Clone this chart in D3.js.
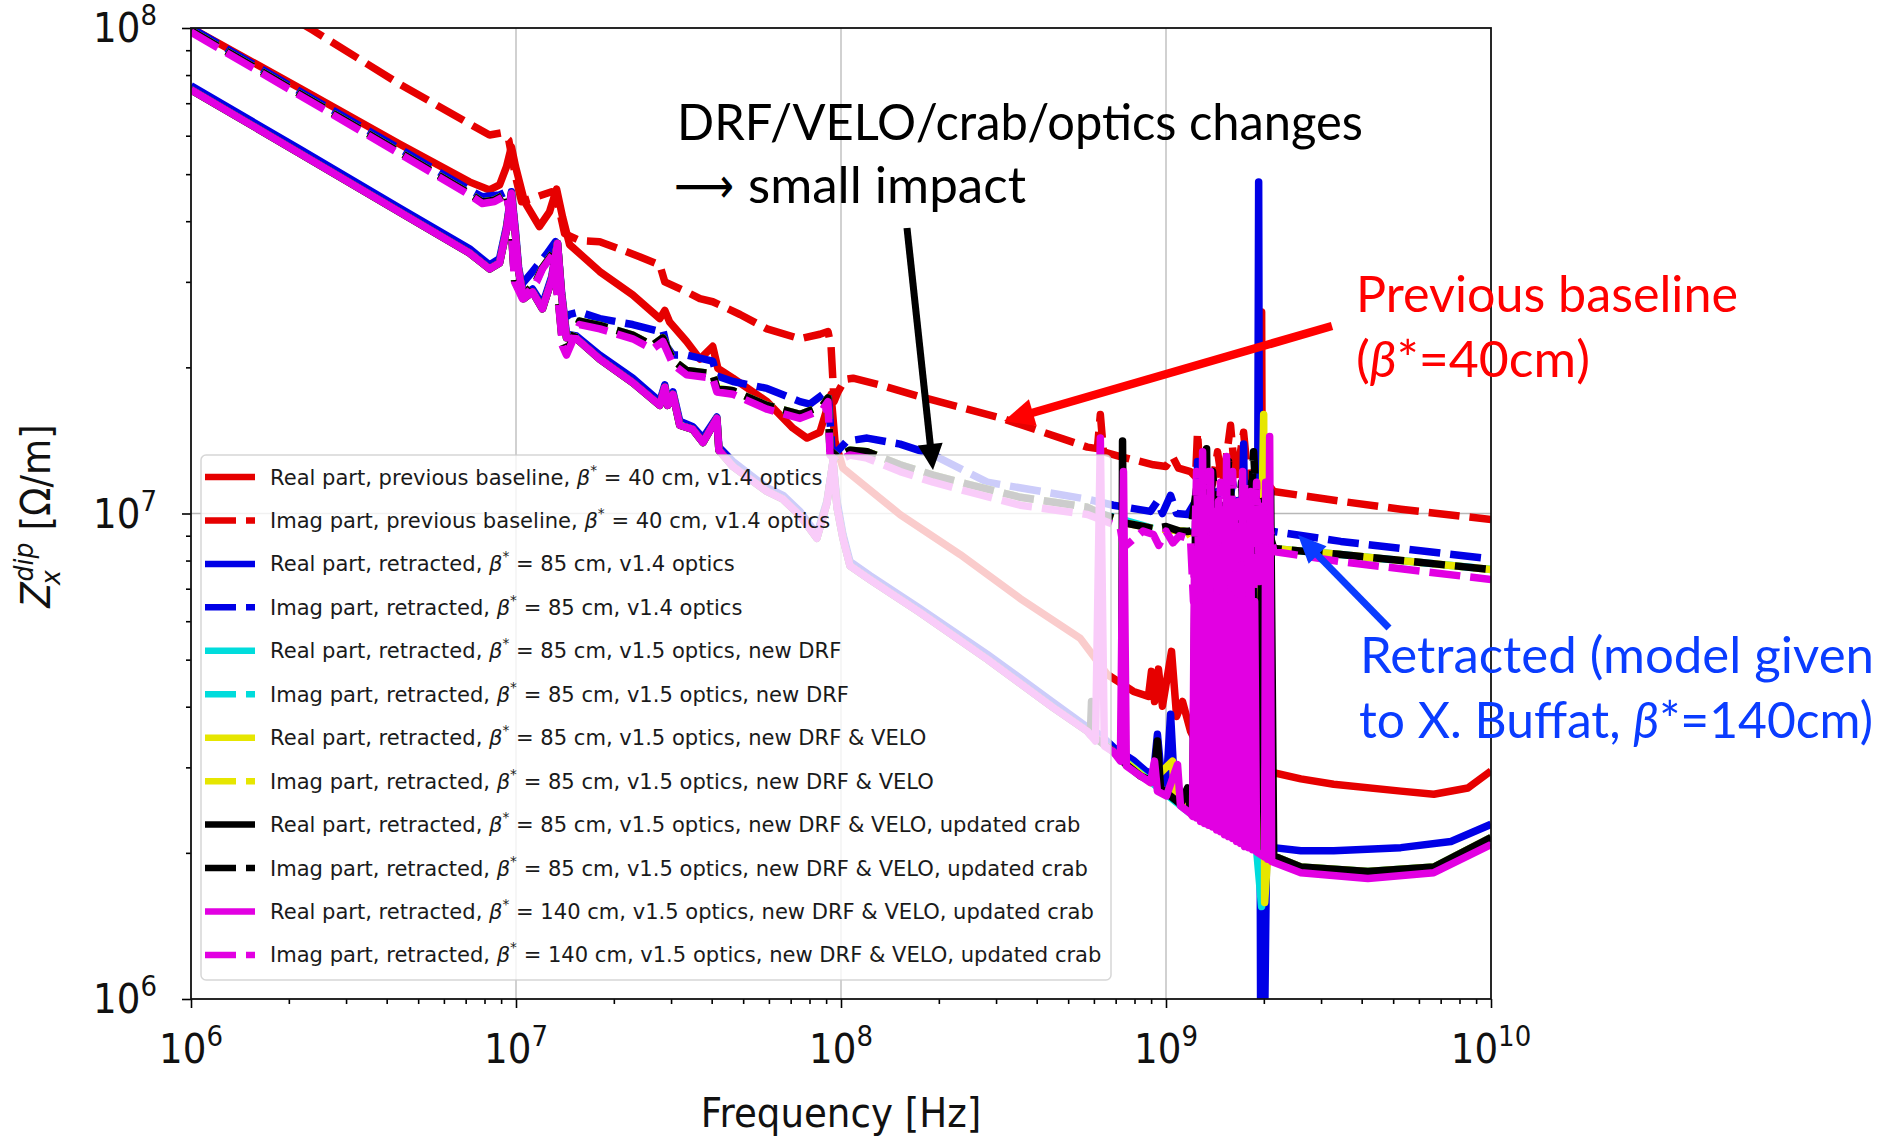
<!DOCTYPE html>
<html>
<head>
<meta charset="utf-8">
<script src="https://cdn.jsdelivr.net/npm/d3@7"></script>
<style>
  body { margin: 0; background: #fff; }
  svg { display: block; }
</style>
</head>
<body>
<svg id="chart" width="1882" height="1136"></svg>
<script>
// ---- data: [frequency Hz, impedance Ohm/m] ----

// previous baseline, beta* = 40 cm
const redRe = [[1.0e6, 1.0e8], [2.15e6, 7.53e7], [4.38e6, 5.77e7], [7.19e6, 4.82e7], [8.29e6, 4.64e7], [8.90e6, 4.75e7], [9.35e6, 5.18e7], [9.68e6, 5.69e7], [9.97e6, 5.18e7], [1.062e7, 4.39e7], [1.18e7, 3.90e7], [1.268e7, 4.18e7], [1.333e7, 4.66e7], [1.391e7, 4.08e7], [1.462e7, 3.58e7], [1.81e7, 3.15e7], [2.286e7, 2.82e7], [2.77e7, 2.52e7], [2.87e7, 2.62e7], [2.97e7, 2.48e7], [3.35e7, 2.26e7], [3.68e7, 2.08e7], [4.03e7, 2.21e7], [4.18e7, 1.99e7], [4.65e7, 1.90e7], [5.92e7, 1.70e7], [7.11e7, 1.50e7], [7.86e7, 1.43e7], [8.61e7, 1.47e7], [9.05e7, 1.64e7], [9.32e7, 1.76e7], [9.58e7, 1.41e7], [1.014e8, 1.24e7], [1.52e8, 9.95e6], [2.327e8, 8.23e6], [3.56e8, 6.68e6], [5.45e8, 5.53e6], [6.60e8, 4.66e6], [7.94e8, 4.30e6], [8.83e8, 4.20e6], [9.02e8, 4.73e6], [9.22e8, 4.10e6], [9.48e8, 4.78e6], [9.75e8, 4.01e6], [1.04e9, 5.20e6], [1.078e9, 3.82e6], [1.124e9, 4.10e6], [1.19e9, 3.56e6], [1.233e9, 3.40e6], [1.277e9, 4.10e6], [1.314e9, 3.32e6], [1.391e9, 4.30e6], [1.441e9, 6.91e6], [1.472e9, 5.45e6], [1.514e9, 6.59e6], [1.558e9, 4.10e6], [1.637e9, 3.73e6], [1.758e9, 3.40e6], [1.887e9, 3.16e6], [1.942e9, 3.12e6], [1.969e9, 2.60e7], [1.990e9, 3.05e6], [2.07e9, 2.94e6], [2.60e9, 2.84e6], [3.28e9, 2.77e6], [5.28e9, 2.68e6], [6.67e9, 2.64e6], [8.49e9, 2.72e6], [1.0e10, 2.95e6]];

const redIm = [[1.0e6, 1.40e8], [2.36e6, 9.91e7], [4.38e6, 7.67e7], [7.19e6, 6.35e7], [8.29e6, 6.02e7], [9.0e6, 6.08e7], [9.5e6, 5.88e7], [9.97e6, 4.94e7], [1.04e7, 4.39e7], [1.157e7, 4.49e7], [1.287e7, 4.60e7], [1.333e7, 4.49e7], [1.411e7, 3.77e7], [1.569e7, 3.65e7], [1.81e7, 3.63e7], [2.40e7, 3.38e7], [2.77e7, 3.25e7], [2.87e7, 3.00e7], [3.35e7, 2.86e7], [3.68e7, 2.77e7], [4.03e7, 2.73e7], [4.89e7, 2.57e7], [5.92e7, 2.40e7], [7.48e7, 2.29e7], [8.61e7, 2.34e7], [9.12e7, 2.37e7], [9.32e7, 2.21e7], [9.52e7, 1.70e7], [9.79e7, 1.78e7], [1.029e8, 1.89e7], [1.089e8, 1.90e7], [1.319e8, 1.84e7], [1.752e8, 1.74e7], [3.134e8, 1.57e7], [5.73e8, 1.37e7], [6.15e8, 1.36e7], [6.28e8, 1.60e7], [6.42e8, 1.34e7], [7.24e8, 1.31e7], [9.15e8, 1.26e7], [1.0e9, 1.25e7], [1.047e9, 1.31e7], [1.093e9, 1.24e7], [1.19e9, 1.22e7], [1.233e9, 1.19e7], [1.25e9, 1.47e7], [1.277e9, 1.17e7], [1.391e9, 1.15e7], [1.441e9, 1.34e7], [1.493e9, 1.14e7], [1.58e9, 1.52e7], [1.637e9, 1.16e7], [1.733e9, 1.47e7], [1.796e9, 1.15e7], [1.984e9, 1.19e7], [2.145e9, 1.11e7], [3.45e9, 1.06e7], [5.28e9, 1.02e7], [1.0e10, 9.72e6]];

// retracted, beta* = 85 cm, v1.4 optics
const blueRe = [[1.0e6, 7.60e7], [2.15e6, 5.64e7], [4.38e6, 4.26e7], [7.19e6, 3.51e7], [8.29e6, 3.25e7], [8.90e6, 3.35e7], [9.35e6, 3.90e7], [9.68e6, 4.60e7], [9.97e6, 3.80e7], [1.018e7, 3.22e7], [1.055e7, 2.82e7], [1.124e7, 2.90e7], [1.206e7, 2.69e7], [1.287e7, 3.07e7], [1.342e7, 3.60e7], [1.381e7, 2.86e7], [1.43e7, 2.34e7], [1.536e7, 2.32e7], [1.81e7, 2.12e7], [2.286e7, 1.90e7], [2.77e7, 1.70e7], [2.87e7, 1.84e7], [2.93e7, 1.70e7], [3.04e7, 1.78e7], [3.19e7, 1.55e7], [3.50e7, 1.51e7], [3.76e7, 1.43e7], [4.15e7, 1.58e7], [4.21e7, 1.37e7], [4.65e7, 1.28e7], [5.92e7, 1.13e7], [6.63e7, 1.09e7], [7.48e7, 1.01e7], [8.43e7, 9.05e6], [9.05e7, 1.06e7], [9.45e7, 1.28e7], [9.72e7, 1.06e7], [1.014e8, 9.05e6], [1.066e8, 7.96e6], [1.228e8, 7.45e6], [1.752e8, 6.37e6], [2.818e8, 5.13e6], [4.50e8, 4.08e6], [5.73e8, 3.63e6], [6.28e8, 3.50e6], [6.89e8, 3.30e6], [7.94e8, 3.10e6], [8.65e8, 2.95e6], [9.15e8, 2.90e6], [9.41e8, 3.51e6], [9.69e8, 2.85e6], [1.003e9, 2.78e6], [1.033e9, 3.86e6], [1.062e9, 2.72e6], [1.124e9, 2.62e6], [1.19e9, 2.52e6], [1.215e9, 2.47e6], [1.25e9, 1.28e7], [1.286e9, 2.42e6], [1.371e9, 6.59e6], [1.411e9, 2.36e6], [1.441e9, 1.11e7], [1.483e9, 2.31e6], [1.649e9, 2.25e6], [1.733e9, 1.39e7], [1.796e9, 2.15e6], [1.887e9, 2.10e6], [1.90e9, 2.08e6], [1.928e9, 4.82e7], [1.955e9, 9.0e5], [1.984e9, 1.6e7], [2.012e9, 9.0e5], [2.04e9, 2.06e6], [2.145e9, 2.05e6], [2.60e9, 2.02e6], [3.28e9, 2.02e6], [5.28e9, 2.05e6], [7.53e9, 2.11e6], [1.0e10, 2.29e6]];

const blueIm = [[1.0e6, 1.0e8], [2.15e6, 7.42e7], [4.38e6, 5.64e7], [7.19e6, 4.64e7], [7.88e6, 4.49e7], [8.90e6, 4.53e7], [9.35e6, 4.60e7], [9.62e6, 4.28e7], [9.9e6, 3.15e7], [1.04e7, 2.96e7], [1.124e7, 3.15e7], [1.242e7, 3.42e7], [1.323e7, 3.63e7], [1.36e7, 2.73e7], [1.391e7, 2.51e7], [1.462e7, 2.57e7], [1.569e7, 2.60e7], [1.81e7, 2.52e7], [2.286e7, 2.45e7], [2.77e7, 2.37e7], [2.83e7, 2.39e7], [2.91e7, 2.21e7], [3.04e7, 2.12e7], [3.35e7, 2.12e7], [4.03e7, 2.06e7], [4.15e7, 1.92e7], [4.65e7, 1.87e7], [5.92e7, 1.81e7], [7.48e7, 1.70e7], [8.03e7, 1.68e7], [8.8e7, 1.76e7], [9.12e7, 1.78e7], [9.38e7, 1.36e7], [9.72e7, 1.34e7], [1.043e8, 1.41e7], [1.203e8, 1.43e7], [1.52e8, 1.39e7], [1.921e8, 1.32e7], [2.818e8, 1.16e7], [5.73e8, 1.07e7], [6.89e8, 1.04e7], [8.96e8, 1.01e7], [9.41e8, 1.06e7], [9.75e8, 1.0e7], [1.033e9, 1.09e7], [1.078e9, 1.0e7], [1.165e9, 9.95e6], [1.233e9, 1.06e7], [1.277e9, 8.76e6], [1.371e9, 1.11e7], [1.472e9, 7.96e6], [1.603e9, 1.16e7], [1.758e9, 8.47e6], [1.887e9, 1.09e7], [1.984e9, 9.63e6], [2.07e9, 9.18e6], [2.145e9, 9.18e6], [3.45e9, 8.76e6], [1.0e10, 8.06e6]];

// retracted curves below 5.7e8 Hz (v1.5 optics and beta* = 140 cm overlap there)
const reRetLow = [[1.0e6, 7.46e7], [2.15e6, 5.53e7], [4.38e6, 4.18e7], [7.19e6, 3.44e7], [8.29e6, 3.19e7], [8.90e6, 3.28e7], [9.35e6, 3.84e7], [9.68e6, 4.56e7], [9.97e6, 3.72e7], [1.018e7, 3.17e7], [1.055e7, 2.77e7], [1.124e7, 2.86e7], [1.206e7, 2.64e7], [1.287e7, 3.03e7], [1.342e7, 3.60e7], [1.381e7, 2.82e7], [1.43e7, 2.30e7], [1.536e7, 2.29e7], [1.81e7, 2.08e7], [2.286e7, 1.86e7], [2.77e7, 1.67e7], [2.87e7, 1.82e7], [2.93e7, 1.67e7], [3.04e7, 1.76e7], [3.19e7, 1.52e7], [3.50e7, 1.49e7], [3.76e7, 1.40e7], [4.15e7, 1.57e7], [4.21e7, 1.35e7], [4.65e7, 1.25e7], [5.92e7, 1.11e7], [6.63e7, 1.07e7], [7.48e7, 9.9e6], [8.43e7, 8.89e6], [9.05e7, 1.05e7], [9.45e7, 1.28e7], [9.72e7, 1.03e7], [1.014e8, 8.89e6], [1.066e8, 7.8e6], [1.228e8, 7.31e6], [1.752e8, 6.25e6], [2.818e8, 5.01e6], [4.50e8, 3.98e6], [5.73e8, 3.56e6]];

const imV15Low = [[1.0e6, 9.88e7], [2.15e6, 7.33e7], [4.38e6, 5.55e7], [7.19e6, 4.56e7], [7.88e6, 4.38e7], [8.59e6, 4.42e7], [9.35e6, 4.56e7], [9.62e6, 4.11e7], [9.9e6, 3.02e7], [1.047e7, 2.79e7], [1.157e7, 3.02e7], [1.206e7, 3.21e7], [1.296e7, 3.43e7], [1.36e7, 2.62e7], [1.391e7, 2.23e7], [1.43e7, 2.14e7], [1.569e7, 2.49e7], [1.81e7, 2.44e7], [2.286e7, 2.33e7], [2.63e7, 2.22e7], [2.83e7, 2.30e7], [3.04e7, 2.07e7], [3.35e7, 1.97e7], [4.03e7, 1.94e7], [4.15e7, 1.81e7], [4.65e7, 1.79e7], [5.92e7, 1.67e7], [7.48e7, 1.60e7], [8.8e7, 1.67e7], [9.12e7, 1.73e7], [9.25e7, 1.35e7], [9.72e7, 1.31e7], [1.066e8, 1.35e7], [1.203e8, 1.34e7], [1.52e8, 1.26e7], [1.921e8, 1.20e7], [2.445e8, 1.15e7], [3.56e8, 1.08e7], [5.73e8, 1.03e7]];

const imMagLow = [[1.0e6, 9.81e7], [2.15e6, 7.28e7], [4.38e6, 5.51e7], [7.19e6, 4.53e7], [7.88e6, 4.35e7], [8.59e6, 4.39e7], [9.35e6, 4.53e7], [9.62e6, 4.08e7], [9.9e6, 3.0e7], [1.047e7, 2.77e7], [1.157e7, 3.0e7], [1.206e7, 3.19e7], [1.296e7, 3.41e7], [1.36e7, 2.60e7], [1.391e7, 2.21e7], [1.43e7, 2.12e7], [1.569e7, 2.45e7], [1.81e7, 2.40e7], [2.286e7, 2.29e7], [2.63e7, 2.18e7], [2.83e7, 2.26e7], [3.04e7, 2.03e7], [3.35e7, 1.93e7], [4.03e7, 1.90e7], [4.15e7, 1.78e7], [4.65e7, 1.76e7], [5.92e7, 1.64e7], [7.48e7, 1.57e7], [8.8e7, 1.64e7], [9.12e7, 1.70e7], [9.25e7, 1.32e7], [9.72e7, 1.28e7], [1.066e8, 1.32e7], [1.203e8, 1.30e7], [1.52e8, 1.22e7], [1.921e8, 1.16e7], [2.445e8, 1.11e7], [3.56e8, 1.04e7], [5.73e8, 9.95e6]];

// 5.7e8 .. 2.2e9 Hz, the resonance band of each retracted curve
const cyanReMid = [[6.89e8, 3.23e6], [1.19e9, 2.41e6], [1.90e9, 2.03e6], [1.969e9, 1.55e6], [2.055e9, 1.98e6], [2.145e9, 1.97e6]];
const cyanImMid = [[6.28e8, 1.0e7], [9.15e8, 9.31e6], [1.165e9, 9.18e6], [1.50e9, 9.0e6], [2.07e9, 8.8e6], [2.145e9, 8.47e6]];
const yellowReMid = [[6.89e8, 3.23e6], [8.96e8, 2.79e6], [1.047e9, 3.09e6], [1.062e9, 2.62e6], [1.19e9, 2.41e6], [1.40e9, 2.27e6], [1.90e9, 2.03e6], [1.998e9, 1.60e7], [2.012e9, 1.58e6], [2.055e9, 1.98e6], [2.145e9, 1.97e6]];
const yellowImMid = [[6.28e8, 1.0e7], [7.24e8, 9.6e6], [9.15e8, 9.31e6], [1.165e9, 9.18e6], [1.25e9, 8.5e6], [1.371e9, 1.05e7], [1.558e9, 8.2e6], [1.733e9, 1.1e7], [1.928e9, 8.6e6], [2.07e9, 9.0e6], [2.145e9, 8.47e6]];
const blackReMid = [[5.85e8, 3.50e6], [5.90e8, 4.10e6], [5.95e8, 3.48e6], [6.89e8, 3.23e6], [7.30e8, 3.12e6], [7.35e8, 1.41e7], [7.45e8, 3.06e6], [8.34e8, 2.88e6], [9.15e8, 2.80e6], [9.41e8, 3.40e6], [9.62e8, 2.72e6], [1.108e9, 2.52e6], [1.165e9, 2.72e6], [1.19e9, 2.43e6], [1.207e9, 2.40e6], [1.233e9, 9.63e6], [1.268e9, 2.37e6], [1.333e9, 1.36e7], [1.371e9, 2.30e6], [1.431e9, 7.78e6], [1.472e9, 2.24e6], [1.536e9, 6.59e6], [1.591e9, 2.16e6], [1.696e9, 7.96e6], [1.758e9, 2.09e6], [1.834e9, 1.16e7], [1.90e9, 2.03e6], [1.984e9, 1.06e7], [2.04e9, 2.00e6], [2.099e9, 1.11e7], [2.145e9, 1.97e6]];
const blackImMid = [[6.28e8, 1.0e7], [6.89e8, 9.8e6], [7.24e8, 9.6e6], [8.5e8, 9.4e6], [9.15e8, 9.31e6], [1.0e9, 9.4e6], [1.1e9, 9.2e6], [1.165e9, 9.18e6], [1.19e9, 9.2e6], [1.25e9, 1.16e7], [1.323e9, 6.91e6], [1.391e9, 1.22e7], [1.472e9, 7.52e6], [1.558e9, 1.28e7], [1.637e9, 7.96e6], [1.708e9, 1.16e7], [1.783e9, 6.91e6], [1.860e9, 1.34e7], [1.942e9, 7.96e6], [2.026e9, 1.06e7], [2.07e9, 9.2e6], [2.145e9, 8.47e6]];
const magReMid = [[6.07e8, 3.40e6], [6.28e8, 1.43e7], [6.46e8, 3.32e6], [6.89e8, 3.23e6], [7.24e8, 3.09e6], [7.40e8, 1.22e7], [7.55e8, 3.02e6], [8.34e8, 2.88e6], [8.96e8, 2.79e6], [9.22e8, 3.09e6], [9.41e8, 2.68e6], [1.003e9, 2.62e6], [1.085e9, 3.04e6], [1.108e9, 2.50e6], [1.19e9, 2.41e6],
  [1.207e9, 2.38e6], [1.224e9, 7.96e6], [1.242e9, 2.36e6], [1.259e9, 5.45e6], [1.277e9, 2.32e6], [1.296e9, 1.34e7], [1.314e9, 2.30e6], [1.333e9, 6.59e6], [1.352e9, 2.28e6], [1.371e9, 1.22e7], [1.391e9, 2.26e6], [1.411e9, 6.0e6], [1.431e9, 2.23e6], [1.451e9, 1.06e7], [1.472e9, 2.21e6], [1.493e9, 6.91e6], [1.514e9, 2.18e6], [1.536e9, 1.31e7], [1.558e9, 2.16e6], [1.580e9, 6.29e6], [1.603e9, 2.14e6], [1.626e9, 9.63e6], [1.649e9, 2.11e6], [1.673e9, 6.59e6], [1.696e9, 2.09e6], [1.721e9, 1.22e7], [1.746e9, 2.06e6], [1.771e9, 5.72e6], [1.796e9, 2.05e6], [1.821e9, 1.11e7], [1.847e9, 2.03e6], [1.874e9, 6.59e6], [1.900e9, 2.01e6], [2.012e9, 1.96e6], [2.026e9, 1.16e7], [2.055e9, 1.94e6], [2.084e9, 1.44e7], [2.114e9, 1.92e6]];
const magImMid = [[6.89e8, 9.5e6], [7.24e8, 9.31e6], [7.40e8, 8.5e6], [8.5e8, 9.2e6], [9.15e8, 9.05e6], [9.5e8, 8.6e6], [1.0e9, 9.2e6], [1.05e9, 8.7e6], [1.1e9, 9.0e6], [1.165e9, 8.89e6], [1.19e9, 8.84e6], [1.215e9, 6.59e6], [1.242e9, 1.22e7], [1.268e9, 6.91e6], [1.296e9, 1.06e7], [1.323e9, 6.59e6], [1.352e9, 1.22e7], [1.381e9, 7.24e6], [1.411e9, 1.01e7], [1.441e9, 6.91e6], [1.472e9, 1.16e7], [1.504e9, 6.59e6], [1.536e9, 1.06e7], [1.569e9, 7.24e6], [1.603e9, 1.22e7], [1.637e9, 6.91e6], [1.673e9, 1.06e7], [1.708e9, 6.59e6], [1.746e9, 1.16e7], [1.783e9, 7.24e6], [1.821e9, 1.01e7], [1.860e9, 6.91e6], [1.90e9, 1.16e7], [1.942e9, 7.24e6], [1.984e9, 1.06e7], [2.026e9, 7.96e6], [2.07e9, 9.63e6]];

// above 2.2e9 Hz
const v15ReTail = [[2.60e9, 1.87e6], [4.18e9, 1.83e6], [6.67e9, 1.87e6], [1.0e10, 2.15e6]];
const v15ImTail = [[3.45e9, 8.23e6], [1.0e10, 7.67e6]];
const magReTail = [[2.60e9, 1.82e6], [4.18e9, 1.77e6], [6.67e9, 1.82e6], [1.0e10, 2.08e6]];
const magImTail = [[2.145e9, 8.35e6], [3.45e9, 7.96e6], [1.0e10, 7.31e6]];

const legendLabels = [
  'Real part, previous baseline, β* = 40 cm, v1.4 optics',
  'Imag part, previous baseline, β* = 40 cm, v1.4 optics',
  'Real part, retracted, β* = 85 cm, v1.4 optics',
  'Imag part, retracted, β* = 85 cm, v1.4 optics',
  'Real part, retracted, β* = 85 cm, v1.5 optics, new DRF',
  'Imag part, retracted, β* = 85 cm, v1.5 optics, new DRF',
  'Real part, retracted, β* = 85 cm, v1.5 optics, new DRF & VELO',
  'Imag part, retracted, β* = 85 cm, v1.5 optics, new DRF & VELO',
  'Real part, retracted, β* = 85 cm, v1.5 optics, new DRF & VELO, updated crab',
  'Imag part, retracted, β* = 85 cm, v1.5 optics, new DRF & VELO, updated crab',
  'Real part, retracted, β* = 140 cm, v1.5 optics, new DRF & VELO, updated crab',
  'Imag part, retracted, β* = 140 cm, v1.5 optics, new DRF & VELO, updated crab'
];
const colors = ['#e60000', '#e60000', '#0000e6', '#0000e6', '#00dcdc', '#00dcdc', '#e6e600', '#e6e600', '#000000', '#000000', '#e200e2', '#e200e2'];
const xMajor = [1e6, 1e7, 1e8, 1e9, 1e10];
const yMajor = [1e6, 1e7, 1e8];

// ---- build the series ----
const seriesData = [
  redRe, redIm, blueRe, blueIm,
  reRetLow.concat(cyanReMid, v15ReTail), imV15Low.concat(cyanImMid, v15ImTail),
  reRetLow.concat(yellowReMid, v15ReTail), imV15Low.concat(yellowImMid, v15ImTail),
  reRetLow.concat(blackReMid, v15ReTail), imV15Low.concat(blackImMid, v15ImTail),
  reRetLow.concat(magReMid, magReTail), imMagLow.concat(magImMid, magImTail)
];

const svg = d3.select('#chart');
const plot = { left: 191, top: 28, right: 1491, bottom: 999 };
const SQ = 0.93; // matplotlib text in the figure is a little squeezed horizontally
const LW = 7.5;
const DASH = '31,10';

const x = d3.scaleLog().domain([1e6, 1e10]).range([plot.left, plot.right]);
const y = d3.scaleLog().domain([1e6, 1e8]).range([plot.bottom, plot.top]);

svg.append('rect').attr('width', 1882).attr('height', 1136).attr('fill', '#fff');
svg.append('defs').append('clipPath').attr('id', 'clip')
  .append('rect')
  .attr('x', plot.left).attr('y', plot.top)
  .attr('width', plot.right - plot.left).attr('height', plot.bottom - plot.top);

// grid (major only)
const grid = svg.append('g').attr('stroke', '#b8b8b8').attr('stroke-width', 1.3);
xMajor.slice(1, -1).forEach(v => {
  grid.append('line').attr('x1', x(v)).attr('x2', x(v)).attr('y1', plot.top).attr('y2', plot.bottom);
});
yMajor.slice(1, -1).forEach(v => {
  grid.append('line').attr('y1', y(v)).attr('y2', y(v)).attr('x1', plot.left).attr('x2', plot.right);
});

// curves
const line = d3.line().x(d => x(d[0])).y(d => y(d[1]));
const curves = svg.append('g').attr('clip-path', 'url(#clip)');
seriesData.forEach((data, i) => {
  curves.append('path')
    .attr('d', line(data))
    .attr('fill', 'none')
    .attr('stroke', colors[i])
    .attr('stroke-width', LW)
    .attr('stroke-linejoin', 'round')
    .attr('stroke-dasharray', i % 2 ? DASH : null);
});

// axes
const xMinor = [], yMinor = [];
for (let e = 6; e < 10; e++) for (let m = 2; m <= 9; m++) xMinor.push(m * Math.pow(10, e));
for (let e = 6; e < 8; e++) for (let m = 2; m <= 9; m++) yMinor.push(m * Math.pow(10, e));

function styleAxis(g) {
  g.select('.domain').remove();
  g.selectAll('.tick line').attr('stroke', '#000').attr('stroke-width', 1.6);
}
svg.append('g').attr('transform', `translate(0,${plot.bottom})`)
  .call(d3.axisBottom(x).tickValues(xMajor).tickSize(9).tickFormat('')).call(styleAxis);
svg.append('g').attr('transform', `translate(0,${plot.bottom})`)
  .call(d3.axisBottom(x).tickValues(xMinor).tickSize(5).tickFormat('')).call(styleAxis);
svg.append('g').attr('transform', `translate(${plot.left},0)`)
  .call(d3.axisLeft(y).tickValues(yMajor).tickSize(9).tickFormat('')).call(styleAxis);
svg.append('g').attr('transform', `translate(${plot.left},0)`)
  .call(d3.axisLeft(y).tickValues(yMinor).tickSize(5).tickFormat('')).call(styleAxis);

svg.append('rect')
  .attr('x', plot.left).attr('y', plot.top)
  .attr('width', plot.right - plot.left).attr('height', plot.bottom - plot.top)
  .attr('fill', 'none').attr('stroke', '#111').attr('stroke-width', 1.8);

// tick labels 10^n
function powerLabel(px, py, v, anchor) {
  const g = svg.append('g').attr('transform', `translate(${px},${py}) scale(${SQ},1)`);
  const t = g.append('text')
    .attr('font-family', 'DejaVu Sans').attr('font-size', 40).attr('fill', '#111')
    .attr('text-anchor', anchor);
  t.append('tspan').text('10');
  t.append('tspan').attr('font-size', 28).attr('dy', -17).text(Math.round(Math.log10(v)));
}
xMajor.forEach(v => powerLabel(x(v), 1063, v, 'middle'));
yMajor.forEach(v => powerLabel(157, y(v) + 14, v, 'end'));

// axis titles
svg.append('g').attr('transform', `translate(841,1127) scale(${SQ},1)`)
  .append('text').attr('font-family', 'DejaVu Sans').attr('font-size', 40).attr('fill', '#111')
  .attr('text-anchor', 'middle').text('Frequency [Hz]');

const yl = svg.append('g');
const ylInner = yl.append('g');
const zText = ylInner.append('text').attr('font-family', 'DejaVu Sans').attr('font-size', 40)
  .attr('font-style', 'italic').attr('fill', '#111').text('Z');
const zW = zText.node().getComputedTextLength();
const supT = ylInner.append('text').attr('x', zW + 1).attr('y', -17).attr('font-family', 'DejaVu Sans')
  .attr('font-size', 27).attr('font-style', 'italic').attr('fill', '#111').text('dip');
ylInner.append('text').attr('x', zW - 3).attr('y', 10).attr('font-family', 'DejaVu Sans')
  .attr('font-size', 27).attr('font-style', 'italic').attr('fill', '#111').text('x');
const supW = supT.node().getComputedTextLength();
const unitT = ylInner.append('text').attr('x', zW + supW + 14).attr('font-family', 'DejaVu Sans')
  .attr('font-size', 40).attr('fill', '#111').text('[Ω/m]');
const totalW = zW + supW + 14 + unitT.node().getComputedTextLength();
ylInner.attr('transform', `translate(${-totalW / 2},0)`);
yl.attr('transform', `translate(50,516) rotate(-90) scale(${SQ},1)`);

// legend
const leg = svg.append('g');
leg.append('rect')
  .attr('x', 201).attr('y', 455).attr('width', 910).attr('height', 525).attr('rx', 5)
  .attr('fill', '#fff').attr('fill-opacity', 0.8)
  .attr('stroke', '#cccccc').attr('stroke-opacity', 0.8).attr('stroke-width', 1.5);

const rowTexts = [];
legendLabels.forEach((lab, i) => {
  const cy = 477 + i * 43.45;
  leg.append('line')
    .attr('x1', 205).attr('x2', 255).attr('y1', cy).attr('y2', cy)
    .attr('stroke', colors[i]).attr('stroke-width', 6.5)
    .attr('stroke-dasharray', i % 2 ? DASH : null);
  const g = leg.append('g').attr('data-cy', cy);
  const t = g.append('text').attr('font-family', 'DejaVu Sans').attr('font-size', 21.5).attr('fill', '#1a1a1a');
  const parts = lab.split('β*');
  t.append('tspan').text(parts[0]);
  t.append('tspan').attr('font-style', 'italic').text('β');
  t.append('tspan').attr('font-size', 14).attr('dy', -10).text('*');
  t.append('tspan').attr('dy', 10).text(parts[1]);
  rowTexts.push(g);
});
const legSq = 553 / rowTexts[0].select('text').node().getComputedTextLength();
rowTexts.forEach(g => g.attr('transform', `translate(270,${+g.attr('data-cy') + 7.5}) scale(${legSq},1)`));

// annotations
function annText(px, py, width, color, pieces, family) {
  const t = svg.append('text')
    .attr('x', px).attr('y', py)
    .attr('font-family', family || 'Lato').attr('font-size', 50).attr('fill', color)
    .attr('textLength', width).attr('lengthAdjust', 'spacingAndGlyphs');
  pieces.forEach(p => {
    const s = t.append('tspan').text(p.t);
    if (p.i) s.attr('font-style', 'italic');
  });
}
function arrow(x0, y0, x1, y1, color, w, headL, headW) {
  const dx = x1 - x0, dy = y1 - y0, L = Math.hypot(dx, dy);
  const ux = dx / L, uy = dy / L, px = -uy, py = ux;
  const bx = x1 - ux * headL, by = y1 - uy * headL;
  svg.append('line').attr('x1', x0).attr('y1', y0).attr('x2', bx + ux * 2).attr('y2', by + uy * 2)
    .attr('stroke', color).attr('stroke-width', w);
  svg.append('path')
    .attr('d', `M${x1},${y1}L${bx + px * headW / 2},${by + py * headW / 2}L${bx - px * headW / 2},${by - py * headW / 2}Z`)
    .attr('fill', color);
}

annText(677, 140, 686, '#000', [{ t: 'DRF/VELO/crab/optics changes' }]);
annText(674, 203, 60, '#000', [{ t: '⟶' }], 'DejaVu Sans');
annText(748, 203, 278, '#000', [{ t: 'small impact' }]);
arrow(907, 228, 933, 470, '#000', 7, 26, 25);

annText(1356, 312, 382, '#ff0000', [{ t: 'Previous baseline' }]);
annText(1356, 377, 234, '#ff0000', [{ t: '(' }, { t: 'β', i: true }, { t: '*=40cm)' }]);
arrow(1332, 326, 1004, 421, '#ff0000', 8.5, 30, 28);

annText(1360, 673, 514, '#0a3cff', [{ t: 'Retracted (model given' }]);
annText(1359, 738, 514, '#0a3cff', [{ t: 'to X. Buffat, ' }, { t: 'β', i: true }, { t: '*=140cm)' }]);
arrow(1389, 628, 1298, 535, '#0a3cff', 7, 28, 25);
</script>
</body>
</html>
